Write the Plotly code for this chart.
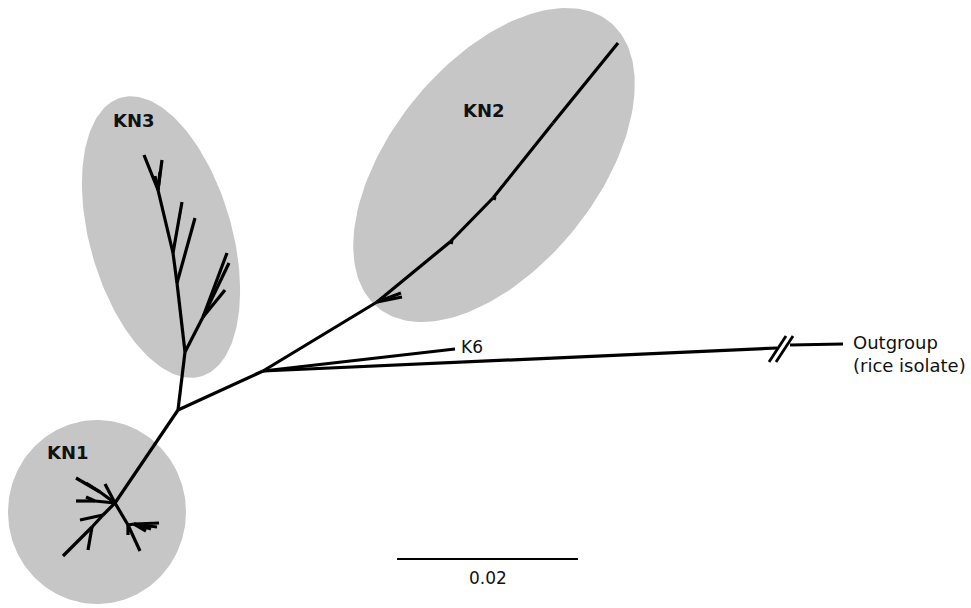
import numpy as np
import plotly.graph_objects as go

# ---------------- data ----------------
# tree nodes (drawing coordinates)
node_ids = ["A", "B", "Out", "K6",
            "k2a", "k2a_l1", "k2a_l2", "k2b", "k2b_l", "k2c", "k2c_l", "k2d", "KN2tip",
            "k3a", "k3s", "k3_l1", "k3_l2", "k3_l3", "k3b", "k3_l4", "k3c", "k3_l5",
            "k3d", "k3_l6", "k3_l7", "k3_l8", "k3_l9",
            "C", "k1u", "k1_l1", "k1_l2", "k1_l3", "k1w", "k1_l4", "k1_l5",
            "k1s", "k1_l6", "k1t", "k1_l7", "k1_l8",
            "k1r", "k1_l9", "k1_l10", "k1f", "k1_l11", "k1_l12", "k1_l13", "k1_l14"]
node_x = [178, 263, 777, 455,
          377, 402, 401, 450, 453, 493, 496, 553, 618,
          185, 203, 227, 229, 225, 177, 195, 173, 182,
          158, 144, 162, 155, 160,
          115, 100, 76, 86, 105, 95, 76, 86,
          103, 80, 92, 63, 88,
          128, 140, 128, 134, 159, 157, 151, 146]
node_y = [410, 371, 348, 349,
          302, 297, 293, 242, 243, 198, 199, 123, 43,
          352, 317, 253, 263, 290, 283, 218, 253, 202,
          190, 155, 160, 176, 172,
          503, 492, 478, 483, 484, 501, 501, 497,
          515, 520, 527, 556, 550,
          525, 551, 535, 524, 523, 527, 529, 531]
node_parent = [None, "A", "B", "B",
               "B", "k2a", "k2a", "k2a", "k2b", "k2b", "k2c", "k2c", "k2d",
               "A", "k3a", "k3s", "k3s", "k3s", "k3a", "k3b", "k3b", "k3c",
               "k3c", "k3d", "k3d", "k3d", "k3d",
               "A", "C", "k1u", "k1u", "C", "C", "k1w", "k1w",
               "C", "k1s", "k1s", "k1t", "k1t",
               "C", "k1r", "k1r", "k1r", "k1f", "k1f", "k1f", "k1f"]

# outgroup continuation after the break, break marks
outgroup_tail_x = [790, 843]
outgroup_tail_y = [345, 344]
break_marks_x = [[769, 786], [776, 793]]
break_marks_y = [[362, 336], [362, 336]]

# clade ellipses: name, centre, semi axes, tilt (deg, clockwise from vertical)
clade_names = ["KN3", "KN2", "KN1"]
clade_cx = [161, 494, 97]
clade_cy = [237, 165, 512]
clade_a = [145, 184, 92]
clade_b = [71, 103, 89]
clade_tilt = [-16, 39, 0]
clade_label_x = [134, 484, 68]
clade_label_y = [120, 110, 452]

# scale bar
scale_x = [397, 578]
scale_y = 559
scale_label = "0.02"

# ---------------- figure ----------------
fig = go.Figure()

t = np.linspace(0, 2 * np.pi, 200)
for cx, cy, a, b, tilt in zip(clade_cx, clade_cy, clade_a, clade_b, clade_tilt):
    th = np.deg2rad(tilt)
    u = b * np.cos(t)
    v = -a * np.sin(t)
    xs = cx + u * np.cos(th) - v * np.sin(th)
    ys = cy + u * np.sin(th) + v * np.cos(th)
    fig.add_trace(go.Scatter(x=xs, y=ys, mode="lines", fill="toself",
                             fillcolor="#c6c6c6", line=dict(width=0),
                             hoverinfo="skip", showlegend=False))

pos = {n: (x, y) for n, x, y in zip(node_ids, node_x, node_y)}
ex, ey = [], []
for n, p in zip(node_ids, node_parent):
    if p is None:
        continue
    ex += [pos[p][0], pos[n][0], None]
    ey += [pos[p][1], pos[n][1], None]
ex += outgroup_tail_x + [None]
ey += outgroup_tail_y + [None]
fig.add_trace(go.Scatter(x=ex, y=ey, mode="lines",
                         line=dict(color="black", width=3.2),
                         hoverinfo="skip", showlegend=False))

for bx, by in zip(break_marks_x, break_marks_y):
    fig.add_trace(go.Scatter(x=bx, y=by, mode="lines",
                             line=dict(color="black", width=2.8),
                             hoverinfo="skip", showlegend=False))

fig.add_trace(go.Scatter(x=scale_x, y=[scale_y, scale_y], mode="lines",
                         line=dict(color="black", width=1.8),
                         hoverinfo="skip", showlegend=False))

annotations = []
for name, lx, ly in zip(clade_names, clade_label_x, clade_label_y):
    annotations.append(dict(x=lx, y=ly, text="<b>" + name + "</b>", showarrow=False,
                            font=dict(family="DejaVu Sans", size=18, color="#111"),
                            xanchor="center", yanchor="middle"))
annotations.append(dict(x=pos["K6"][0] + 4, y=pos["K6"][1] - 2, text="K6", showarrow=False,
                        font=dict(family="DejaVu Sans", size=17, color="#111"),
                        xanchor="left", yanchor="middle"))
annotations.append(dict(x=outgroup_tail_x[1] + 8, y=outgroup_tail_y[1] + 10,
                        text="Outgroup<br>(rice isolate)", showarrow=False, align="left",
                        font=dict(family="DejaVu Sans", size=18, color="#111"),
                        xanchor="left", yanchor="middle"))
annotations.append(dict(x=(scale_x[0] + scale_x[1]) / 2, y=scale_y + 19, text=scale_label,
                        showarrow=False,
                        font=dict(family="DejaVu Sans", size=17, color="#111"),
                        xanchor="center", yanchor="middle"))

fig.update_layout(
    width=971, height=608,
    margin=dict(l=0, r=0, t=0, b=0),
    paper_bgcolor="white", plot_bgcolor="white",
    xaxis=dict(range=[0, 971], visible=False, fixedrange=True),
    yaxis=dict(range=[608, 0], visible=False, fixedrange=True),
    annotations=annotations,
    showlegend=False,
)

fig.write_html("out.html")
